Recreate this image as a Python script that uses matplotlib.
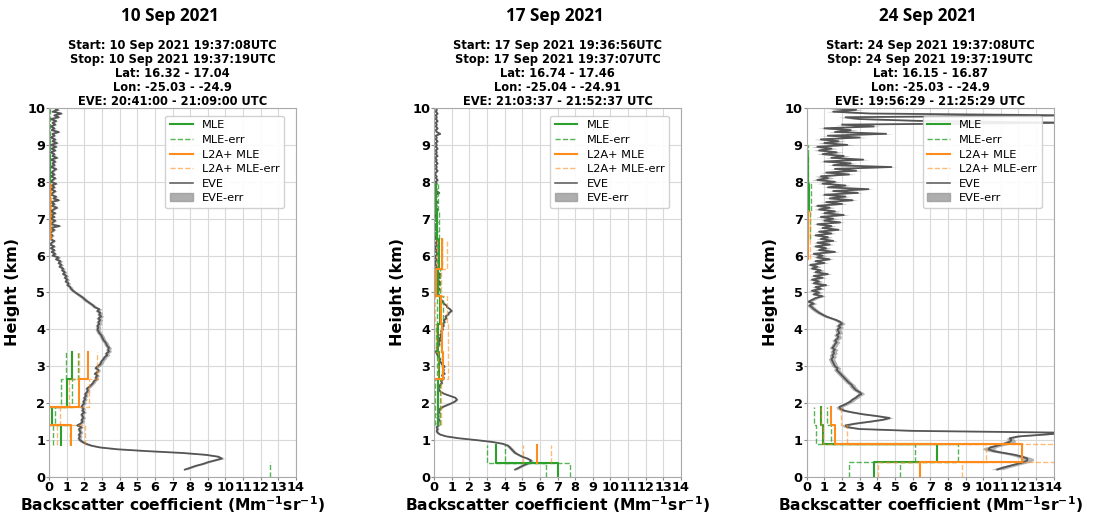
import numpy as np
import matplotlib
matplotlib.use("Agg")
import matplotlib.pyplot as plt
from matplotlib.patches import Patch
from matplotlib.lines import Line2D

nan = np.nan

# ---- cabeceras ----
dates = ["10 Sep 2021", "17 Sep 2021", "24 Sep 2021"]
starts = ["10 Sep 2021 19:37:08UTC", "17 Sep 2021 19:36:56UTC", "24 Sep 2021 19:37:08UTC"]
stops = ["10 Sep 2021 19:37:19UTC", "17 Sep 2021 19:37:07UTC", "24 Sep 2021 19:37:19UTC"]
lats = ["16.32 - 17.04", "16.74 - 17.46", "16.15 - 16.87"]
lons = ["-25.03 - -24.9", "-25.04 - -24.91", "-25.03 - -24.9"]
eve_times = ["20:41:00 - 21:09:00 UTC", "21:03:37 - 21:52:37 UTC", "19:56:29 - 21:25:29 UTC"]

# ---- Aeolus MLE (perfiles por bins, Mm-1 sr-1) ----
mle_edges1 = [0.0, 0.4, 0.88, 1.4, 1.9, 2.65, 3.4, 6.45, 7.2, 7.95, 8.7, 9.45, 10.2]
mle_vals1 = [16.0, nan, 0.7, 0.15, 1.0, 1.3, nan, 0.03, 0.02, 0.03, 0.02, 0.02]
mle_err1 = [3.5, nan, 0.5, 0.2, 0.33, 0.35, nan, 0.04, 0.04, 0.04, 0.04, 0.04]
l2a_edges1 = [0.88, 1.4, 1.9, 2.65, 3.4, 6.45, 7.2, 7.95]
l2a_vals1 = [1.23, 0.0, 1.7, 2.2, nan, 0.05, 0.05]
l2a_err1 = [0.8, 0.6, 0.55, 0.5, nan, 0.08, 0.08]

mle_edges2 = [0.0, 0.38, 0.88, 1.4, 2.65, 3.4, 4.15, 4.9, 5.65, 6.45, 7.2, 7.95]
mle_vals2 = [7.0, 3.52, nan, 0.2, 0.3, 0.25, 0.35, 0.2, 0.3, 0.15, 0.12]
mle_err2 = [0.68, 0.5, nan, 0.12, 0.15, 0.15, 0.18, 0.15, 0.15, 0.12, 0.12]
l2a_edges2 = [0.38, 0.88, 1.4, 2.65, 3.4, 4.15, 4.9, 5.65, 6.45]
l2a_vals2 = [5.82, nan, 0.0, 0.5, 0.45, 0.4, 0.1, 0.45]
l2a_err2 = [0.8, nan, 0.4, 0.3, 0.35, 0.35, 0.3, 0.3]

mle_edges3 = [0.0, 0.4, 0.9, 1.4, 1.9, 6.45, 7.2, 7.95, 8.7, 9.0]
mle_vals3 = [3.83, 7.36, 0.95, 0.8, nan, 0.1, 0.15, 0.05, 0.02]
mle_err3 = [1.44, 1.2, 0.42, 0.37, nan, 0.1, 0.12, 0.05, 0.03]
l2a_edges3 = [0.0, 0.4, 0.9, 1.4, 1.9, 5.9, 6.45, 7.2]
l2a_vals3 = [6.41, 12.18, 1.61, 1.37, nan, 0.1, 0.1]
l2a_err3 = [2.38, 2.0, 0.67, 0.57, nan, 0.08, 0.08]

# ---- EVE (cada 0.05 km desde 0.2 km) ----
eve_base = 0.2
eve_step = 0.05
eve1 = [7.7, 8.0, 8.3, 8.7, 9.0, 9.4, 9.8, 9.6, 8.9, 7.6, 5.6, 3.9, 2.9, 2.4, 2.1, 1.9,
        1.75, 1.7, 1.75, 1.7, 1.8, 1.75, 1.7, 1.85, 1.6, 1.8, 1.9, 1.85, 1.95, 1.9, 1.85, 2.0,
        1.9, 1.95, 1.85, 1.9, 2.0, 1.95, 2.05, 2.0, 2.1, 2.05, 2.15, 2.2, 2.15, 2.3, 2.4, 2.5,
        2.55, 2.7, 2.65, 2.75, 2.6, 2.75, 2.8, 2.65, 2.75, 2.9, 2.95, 3.0, 3.1, 3.15, 3.3, 3.25,
        3.4, 3.35, 3.4, 3.3, 3.25, 3.2, 3.1, 3.05, 3.0, 2.95, 2.85, 2.8, 2.75, 2.8, 2.75, 2.85,
        2.8, 2.9, 2.8, 2.95, 2.85, 2.9, 2.75, 2.85, 2.6, 2.5, 2.35, 2.2, 2.05, 1.95, 1.8, 1.65,
        1.5, 1.35, 1.25, 1.2, 1.05, 1.1, 0.95, 1.05, 0.9, 1.0, 0.8, 0.9, 0.75, 0.8, 0.6, 0.7,
        0.55, 0.65, 0.4, 0.55, 0.2, 0.35, 0.15, 0.3, 0.1, 0.3, 0.05, 0.15, 0.3, 0.05, 0.1, 0.2,
        0.0, 0.15, 0.3, 0.05, 0.6, 0.1, 0.2, 0.35, 0.05, 0.3, 0.1, 0.35, 0.1, 0.25, 0.45, 0.15,
        0.3, 0.1, 0.55, 0.25, 0.4, 0.1, 0.2, 0.35, 0.1, 0.3, 0.15, 0.4, 0.1, 0.2, 0.35, 0.1,
        0.3, 0.15, 0.25, 0.4, 0.1, 0.3, 0.2, 0.35, 0.1, 0.45, 0.2, 0.3, 0.1, 0.35, 0.15, 0.4,
        0.1, 0.45, 0.2, 0.35, 0.1, 0.3, 0.2, 0.55, 0.15, 0.3, 0.1, 0.35, 0.2, 0.4, 0.1, 0.55,
        0.3, 0.7, 0.2, 0.5, 0.3]
eve2 = [4.6, 4.8, 5.0, 5.25, 5.45, 5.5, 5.3, 5.0, 4.8, 4.6, 4.5, 4.4, 4.3, 4.2, 3.9, 3.3,
        2.4, 1.4, 0.7, 0.35, 0.2, 0.15, 0.2, 0.15, 0.25, 0.2, 0.25, 0.3, 0.2, 0.25, 0.2, 0.3,
        0.25, 0.35, 0.5, 0.75, 1.0, 1.2, 1.3, 1.2, 0.9, 0.6, 0.4, 0.3, 0.25, 0.3, 0.35, 0.45,
        0.4, 0.5, 0.55, 0.45, 0.6, 0.5, 0.55, 0.5, 0.6, 0.45, 0.4, 0.3, 0.35, 0.25, 0.2, 0.15,
        0.1, 0.2, 0.15, 0.25, 0.3, 0.25, 0.35, 0.3, 0.4, 0.35, 0.45, 0.4, 0.5, 0.45, 0.55, 0.5,
        0.6, 0.55, 0.7, 0.65, 0.8, 0.85, 1.0, 0.9, 0.75, 0.7, 0.55, 0.5, 0.4, 0.35, 0.3, 0.25,
        0.2, 0.25, 0.3, 0.2, 0.25, 0.35, 0.3, 0.2, 0.3, 0.25, 0.35, 0.2, 0.15, 0.1, 0.15, 0.1,
        0.05, 0.1, 0.15, 0.05, 0.1, 0.2, 0.1, 0.15, 0.05, 0.1, 0.15, 0.1, 0.2, 0.1, 0.05, 0.15,
        0.1, 0.2, 0.1, 0.15, 0.05, 0.1, 0.2, 0.1, 0.15, 0.1, 0.05, 0.15, 0.1, 0.2, 0.1, 0.15,
        0.1, 0.2, 0.1, 0.05, 0.15, 0.1, 0.3, 0.1, 0.15, 0.05, 0.1, 0.15, 0.1, 0.2, 0.1, 0.15,
        0.05, 0.1, 0.2, 0.1, 0.15, 0.1, 0.2, 0.1, 0.15, 0.05, 0.2, 0.1, 0.15, 0.1, 0.2, 0.1,
        0.15, 0.1, 0.2, 0.1, 0.15, 0.1, 0.35, 0.15, 0.1, 0.2, 0.1, 0.15, 0.1, 0.2, 0.1, 0.15,
        0.1, 0.2, 0.1, 0.15, 0.1]
eve3 = [10.8, 11.1, 11.5, 11.9, 12.3, 12.5, 12.5, 12.2, 11.8, 11.2, 10.6, 10.3, 10.4, 10.8, 11.2, 11.5,
        11.6, 11.5, 12.0, 13.5, 14.8, 6.0, 3.0, 2.3, 2.2, 2.8, 3.6, 4.3, 4.7, 4.0, 3.2, 2.6,
        2.1, 1.9, 1.85, 2.1, 2.3, 2.5, 2.6, 2.8, 2.9, 3.1, 3.0, 2.8, 2.7, 2.6, 2.55, 2.4,
        2.3, 2.2, 2.1, 2.0, 1.9, 1.8, 1.7, 1.75, 1.6, 1.55, 1.5, 1.45, 1.4, 1.5, 1.45, 1.55,
        1.5, 1.6, 1.45, 1.55, 1.6, 1.7, 1.6, 1.75, 1.8, 1.7, 1.85, 1.8, 1.75, 1.9, 1.8, 2.0,
        1.9, 1.7, 1.4, 1.1, 0.9, 0.7, 0.55, 0.4, 0.3, 0.15, 0.4, 0.1, 0.3, 0.5, 0.9, 0.4,
        0.7, 0.3, 0.8, 0.5, 1.1, 0.4, 0.7, 0.3, 0.9, 0.4, 1.2, 0.5, 0.8, 0.3, 0.6, 0.2,
        1.0, 0.5, 1.3, 0.6, 0.9, 0.4, 1.6, 0.7, 1.1, 0.5, 1.3, 0.6, 1.5, 0.8, 1.2, 0.5,
        1.4, 0.7, 1.8, 0.9, 1.4, 0.6, 1.9, 1.0, 1.5, 0.8, 2.1, 1.0, 1.6, 0.7, 1.3, 0.6,
        2.0, 1.1, 2.6, 1.3, 2.2, 1.0, 2.9, 1.5, 3.5, 1.2, 2.2, 0.9, 1.6, 0.6, 1.2, 0.8,
        2.4, 1.1, 2.8, 1.6, 4.8, 1.5, 2.5, 1.0, 3.2, 1.4, 2.1, 0.9, 1.7, 0.7, 1.4, 0.6,
        2.3, 1.0, 1.8, 0.8, 3.0, 1.2, 4.5, 1.6, 2.5, 1.0, 3.8, 2.0, 15.0, 6.4, 3.0, 2.2,
        15.0, 3.6, 1.5, 2.8, 1.2]
# incertidumbre EVE por tramos de 1 km (0-1, 1-2, ..., 9-10)
eve_err1 = [0.14, 0.12, 0.12, 0.14, 0.14, 0.12, 0.1, 0.1, 0.1, 0.1]
eve_err2 = [0.12, 0.08, 0.06, 0.06, 0.06, 0.05, 0.05, 0.05, 0.05, 0.05]
eve_err3 = [0.35, 0.2, 0.18, 0.18, 0.18, 0.22, 0.25, 0.3, 0.35, 0.4]

panels = [
    (mle_edges1, mle_vals1, mle_err1, l2a_edges1, l2a_vals1, l2a_err1, eve1, eve_err1),
    (mle_edges2, mle_vals2, mle_err2, l2a_edges2, l2a_vals2, l2a_err2, eve2, eve_err2),
    (mle_edges3, mle_vals3, mle_err3, l2a_edges3, l2a_vals3, l2a_err3, eve3, eve_err3),
]

GREEN = "#2ca02c"
ORANGE = "#ff8c1a"
EVE_C = "#555555"


def perfil(edges, vals):
    edges = np.asarray(edges, float)
    vals = np.asarray(vals, float)
    xs = np.repeat(vals, 2)
    ys = np.column_stack([edges[:-1], edges[1:]]).ravel()
    return xs, ys


fig = plt.figure(figsize=(10.94, 5.13), dpi=100)
lefts = [0.0448, 0.3967, 0.7374]

for i, (me, mv, mr, le, lv, lr, eve, everr) in enumerate(panels):
    ax = fig.add_axes([lefts[i], 0.0702, 0.2258, 0.7193])
    ax.grid(True, color="#d9d9d9", lw=0.8)
    ax.set_axisbelow(True)

    # EVE
    eve = np.asarray(eve, float)
    h = eve_base + eve_step * np.arange(len(eve))
    e = np.asarray(everr)[np.clip(h.astype(int), 0, 9)]
    ax.fill_betweenx(h, eve - e, eve + e, color="#9a9a9a", alpha=0.75, lw=0)
    ax.plot(eve, h, color=EVE_C, lw=1.3)

    # MLE
    x, y = perfil(me, mv)
    ax.plot(x, y, color=GREEN, lw=1.5)
    x, y = perfil(me, np.asarray(mv) - np.asarray(mr))
    ax.plot(x, y, color=GREEN, lw=1.0, ls="--", alpha=0.8)
    x, y = perfil(me, np.asarray(mv) + np.asarray(mr))
    ax.plot(x, y, color=GREEN, lw=1.0, ls="--", alpha=0.8)

    # L2A+ MLE
    x, y = perfil(le, lv)
    ax.plot(x, y, color=ORANGE, lw=1.5)
    x, y = perfil(le, np.asarray(lv) - np.asarray(lr))
    ax.plot(x, y, color=ORANGE, lw=1.0, ls="--", alpha=0.6)
    x, y = perfil(le, np.asarray(lv) + np.asarray(lr))
    ax.plot(x, y, color=ORANGE, lw=1.0, ls="--", alpha=0.6)

    ax.set_xlim(0, 14)
    ax.set_ylim(0, 10)
    ax.set_xticks(range(0, 15))
    ax.set_yticks(range(0, 11))
    ax.tick_params(labelsize=9.3, length=2, pad=0.8, color="#888888")
    for lab in ax.get_xticklabels() + ax.get_yticklabels():
        lab.set_fontweight("bold")
    for s in ax.spines.values():
        s.set_color("#aaaaaa")

    ax.set_xlabel("Backscatter coefficient (Mm$^{\\mathbf{-1}}$sr$^{\\mathbf{-1}}$)",
                  fontsize=11.2, fontweight="bold", labelpad=0)
    ax.set_ylabel("Height (km)", fontsize=11.5, fontweight="bold", labelpad=5)

    sub = (f"Start: {starts[i]}\nStop: {stops[i]}\nLat: {lats[i]}\n"
           f"Lon: {lons[i]}\nEVE: {eve_times[i]}")
    ax.set_title(sub, fontsize=8.3, fontweight="bold", linespacing=1.1, pad=2)

    handles = [
        Line2D([], [], color=GREEN, lw=1.5),
        Line2D([], [], color=GREEN, lw=1.0, ls="--", alpha=0.8),
        Line2D([], [], color=ORANGE, lw=1.5),
        Line2D([], [], color=ORANGE, lw=1.0, ls="--", alpha=0.6),
        Line2D([], [], color=EVE_C, lw=1.1),
        Patch(color="#9a9a9a", alpha=0.8),
    ]
    labels = ["MLE", "MLE-err", "L2A+ MLE", "L2A+ MLE-err", "EVE", "EVE-err"]
    ax.legend(handles, labels, loc="upper right", bbox_to_anchor=(0.974, 0.994),
              fontsize=8.2, framealpha=0.9, handlelength=2.0, labelspacing=0.4)

    fig.text(lefts[i] + 0.2258 / 2 - 0.002, 0.968, dates[i], ha="center", va="center",
             fontsize=12.3, fontweight="bold", family="Open Sans")

plt.savefig("out.png", dpi=100)
